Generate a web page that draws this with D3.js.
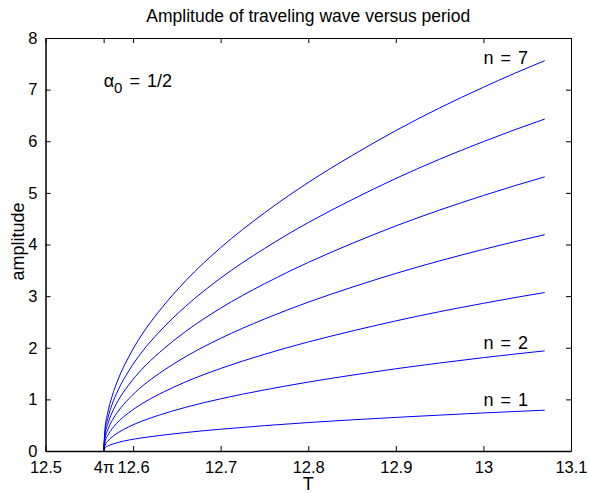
<!DOCTYPE html>
<html>
<head>
<meta charset="utf-8">
<script src="https://cdn.jsdelivr.net/npm/d3@7"></script>
<style>
  body { margin: 0; background: #fff; }
  text { font-family: "Liberation Sans", Arial, sans-serif; }
</style>
</head>
<body>
<div id="chart"></div>
<script>
const W = 589, H = 493;
const margin = { top: 38, right: 18, bottom: 42, left: 45.5 };
const width = W - margin.left - margin.right;
const height = H - margin.top - margin.bottom;

// Periods sampled along the curves (first one is 4*pi)
const periods = [12.5664, 12.568, 12.571, 12.576, 12.583, 12.595, 12.61, 12.63, 12.66,
  12.7, 12.75, 12.8, 12.85, 12.9, 12.95, 13.0, 13.035, 13.07];

// Amplitudes, one array per n
const amp1 = [0, .06, .095, .13, .166, .212, .254, .30, .358, .422, .491, .551, .604, .651, .695, .737, .764, .79];
const amp2 = [0, .113, .188, .272, .357, .468, .578, .696, .846, 1.011, 1.183, 1.335, 1.469, 1.593, 1.705, 1.808, 1.876, 1.94];
const amp3 = [0, .178, .298, .430, .565, .740, .915, 1.102, 1.339, 1.599, 1.873, 2.112, 2.324, 2.520, 2.699, 2.861, 2.969, 3.07];
const amp4 = [0, .243, .406, .587, .771, 1.010, 1.249, 1.504, 1.827, 2.183, 2.556, 2.883, 3.172, 3.440, 3.683, 3.905, 4.052, 4.19];
const amp5 = [0, .308, .515, .743, .977, 1.280, 1.582, 1.906, 2.315, 2.767, 3.239, 3.653, 4.020, 4.360, 4.667, 4.949, 5.135, 5.31];
const amp6 = [0, .373, .624, .900, 1.183, 1.550, 1.916, 2.308, 2.803, 3.350, 3.922, 4.424, 4.868, 5.279, 5.652, 5.993, 6.218, 6.43];
const amp7 = [0, .438, .733, 1.058, 1.391, 1.822, 2.253, 2.714, 3.296, 3.939, 4.612, 5.201, 5.723, 6.207, 6.645, 7.046, 7.311, 7.56];
const series = [amp1, amp2, amp3, amp4, amp5, amp6, amp7];

// Ticks
const xTicks = [12.5, 4 * Math.PI, 12.6, 12.7, 12.8, 12.9, 13, 13.1];
const xTickLabels = ["12.5", "4\u03c0", "12.6", "12.7", "12.8", "12.9", "13", "13.1"];
const yTicks = [0, 1, 2, 3, 4, 5, 6, 7, 8];

// Curve labels
const curveLabels = [
  { text: "n = 7", T: 13.0, A: 7.49 },
  { text: "n = 2", T: 13.0, A: 1.97 },
  { text: "n = 1", T: 13.0, A: 0.87 }
];

const x = d3.scaleLinear().domain([12.5, 13.1]).range([0, width]);
const y = d3.scaleLinear().domain([0, 8]).range([height, 0]);

const svg = d3.select("#chart")
  .append("svg")
  .attr("width", W)
  .attr("height", H)
  .append("g")
  .attr("transform", `translate(${margin.left},${margin.top})`);

// Curves
const line = d3.line()
  .x(d => x(d[0]))
  .y(d => y(d[1]))
  .curve(d3.curveMonotoneX);

series.forEach(s => {
  svg.append("path")
    .datum(periods.map((t, i) => [t, s[i]]))
    .attr("fill", "none")
    .attr("stroke", "#0000ff")
    .attr("stroke-width", 1)
    .attr("d", line);
});

// Axes (MATLAB style, ticks inward on all four sides)
const fontSize = "16.5px";
const tickLen = 5;

const xb = svg.append("g")
  .attr("transform", `translate(0,${height})`)
  .call(d3.axisBottom(x).tickValues(xTicks).tickSizeInner(-tickLen).tickSizeOuter(0)
    .tickPadding(10).tickFormat((d, i) => xTickLabels[i]));
const xt = svg.append("g")
  .call(d3.axisTop(x).tickValues(xTicks).tickSizeInner(-tickLen).tickSizeOuter(0).tickFormat(""));
const yl = svg.append("g")
  .call(d3.axisLeft(y).tickValues(yTicks).tickSizeInner(-tickLen).tickSizeOuter(0)
    .tickPadding(8).tickFormat(d3.format("d")));
const yr = svg.append("g")
  .attr("transform", `translate(${width},0)`)
  .call(d3.axisRight(y).tickValues(yTicks).tickSizeInner(-tickLen).tickSizeOuter(0).tickFormat(""));

[xb, xt, yl, yr].forEach(g => {
  g.selectAll(".domain").attr("stroke", "#000").attr("stroke-width", 1);
  g.selectAll(".tick line").attr("stroke", "#000");
  g.selectAll(".tick text")
    .style("font-size", fontSize)
    .style("font-family", "'Liberation Sans', Arial, sans-serif")
    .attr("fill", "#000");
});
xb.select(".domain").attr("stroke-width", 1.5);
yl.select(".domain").attr("stroke-width", 1.5);

// Title and axis labels
svg.append("text")
  .attr("x", width / 2)
  .attr("y", -16)
  .attr("text-anchor", "middle")
  .style("font-size", "17.5px")
  .text("Amplitude of traveling wave versus period");

svg.append("text")
  .attr("x", width / 2)
  .attr("y", height + 39)
  .attr("text-anchor", "middle")
  .style("font-size", "18px")
  .text("T");

svg.append("text")
  .attr("transform", "rotate(-90)")
  .attr("x", -height / 2 + 3)
  .attr("y", -22)
  .attr("text-anchor", "middle")
  .style("font-size", "18px")
  .text("amplitude");

// Annotations
svg.selectAll(".curve-label")
  .data(curveLabels)
  .join("text")
  .attr("class", "curve-label")
  .attr("x", d => x(d.T))
  .attr("y", d => y(d.A))
  .style("font-size", "18px")
  .style("word-spacing", "2px")
  .text(d => d.text);

const alpha = svg.append("text")
  .attr("x", x(4 * Math.PI))
  .attr("y", y(7.06))
  .style("font-size", "18px")
  .style("word-spacing", "2px");
alpha.append("tspan").text("\u03b1");
alpha.append("tspan").attr("dy", 6).style("font-size", "15px").text("0");
alpha.append("tspan").attr("dy", -6).text(" = 1/2");
</script>
</body>
</html>
